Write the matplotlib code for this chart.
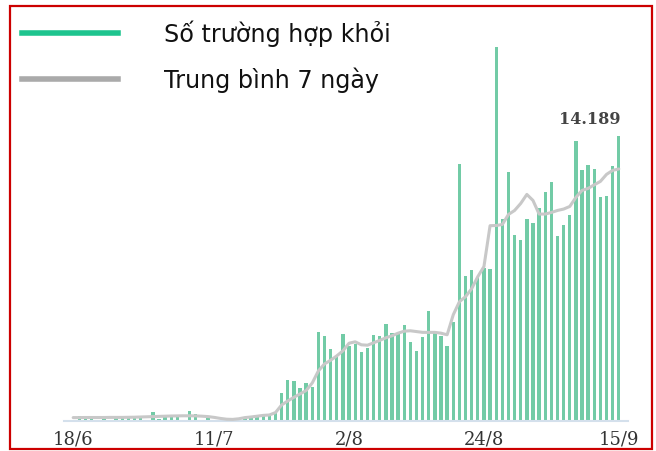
import numpy as np
import matplotlib
matplotlib.use("Agg")
import matplotlib.pyplot as plt
from matplotlib.lines import Line2D
from matplotlib.patches import Rectangle

# daily recoveries 18/6 -> 15/9 (90 days)
recovered = [
    0, 250, 180, 180, 0, 150, 0, 170, 170, 170,
    170, 200, 0, 450, 120, 180, 180, 200, 0, 480,
    330, 0, 200, 0, 0, 150, 0, 0, 200, 250,
    300, 300, 250, 450, 1400, 2050, 2000, 1670, 1920, 1700,
    4440, 4240, 3600, 3170, 4360, 3740, 3830, 3440, 3640, 4290,
    4240, 4840, 4390, 4390, 4790, 3940, 3490, 4210, 5490, 4410,
    4240, 3720, 4940, 12800, 7230, 7530, 7200, 7650, 7600, 18670,
    10090, 12420, 9260, 9010, 10060, 9870, 10620, 11400, 11900, 9210,
    9770, 10270, 13980, 12530, 12770, 12570, 11160, 11200, 12730, 14189,
]
# 7-day average as drawn
avg7 = [
    170, 170, 175, 175, 175, 175, 180, 180, 180, 185,
    190, 200, 210, 220, 230, 240, 250, 255, 260, 260,
    255, 240, 220, 180, 130, 90, 80, 110, 170, 200,
    240, 280, 300, 420, 800, 1000, 1180, 1350, 1520, 1900,
    2500, 2850, 3030, 3250, 3500, 3880, 3950, 3800, 3780, 3900,
    4020, 4150, 4250, 4380, 4480, 4500, 4460, 4420, 4420, 4420,
    4380, 4300, 5300, 5950, 6200, 6600, 7200, 7700, 9740, 9750,
    9800, 10300, 10500, 10850, 11300, 11000, 10320, 10320, 10400, 10500,
    10570, 10700, 11150, 11500, 11600, 11780, 11950, 12300, 12500, 12570,
]
tick_pos = [0, 23, 45, 67, 89]
tick_labels = ["18/6", "11/7", "2/8", "24/8", "15/9"]
legend_labels = ["Số trường hợp khỏi", "Trung bình 7 ngày"]
last_label = "14.189"

days = np.arange(len(recovered))

fig = plt.figure(figsize=(6.56, 4.52), dpi=100)
ax = fig.add_axes([64 / 656, 30 / 452, 564 / 656, 391 / 452])

ax.bar(days, recovered, width=0.55, color="#72cba6", zorder=2)
ax.plot(days, avg7, color="#c8c8c8", lw=2.2, zorder=3, solid_capstyle="round")

ax.set_xlim(-1.5, 90.5)
ax.set_ylim(0, 19500)
ax.set_yticks([])
ax.set_xticks(tick_pos)
ax.set_xticklabels(tick_labels, family="DejaVu Serif", fontsize=13, color="#333333")
ax.tick_params(axis="x", length=0, pad=6)
for s in ["top", "right", "left"]:
    ax.spines[s].set_visible(False)
ax.spines["bottom"].set_color("#d4e0ec")
ax.spines["bottom"].set_linewidth(1.5)

ax.annotate(last_label, xy=(89.3, recovered[-1]), xytext=(0, 7),
            textcoords="offset points", ha="right", va="bottom",
            family="DejaVu Serif", fontsize=11.5, fontweight="bold", color="#444444")

# legend drawn by hand at the top left
leg_colors = ["#1ec48e", "#aaaaaa"]
leg_y = [34, 80]
for lab, col, yy in zip(legend_labels, leg_colors, leg_y):
    fy = 1 - yy / 452
    fig.add_artist(Line2D([22 / 656, 118 / 656], [fy, fy], color=col, lw=4,
                          transform=fig.transFigure))
    fig.text(164 / 656, fy, lab, fontsize=17.2, color="#111111",
             family="DejaVu Sans", va="center", ha="left")

# red frame
fig.add_artist(Rectangle((10 / 656, 2 / 452), 642 / 656, 443 / 452, fill=False,
                         edgecolor="#cc0000", lw=1.6, transform=fig.transFigure))

fig.savefig("out.png", dpi=100)
